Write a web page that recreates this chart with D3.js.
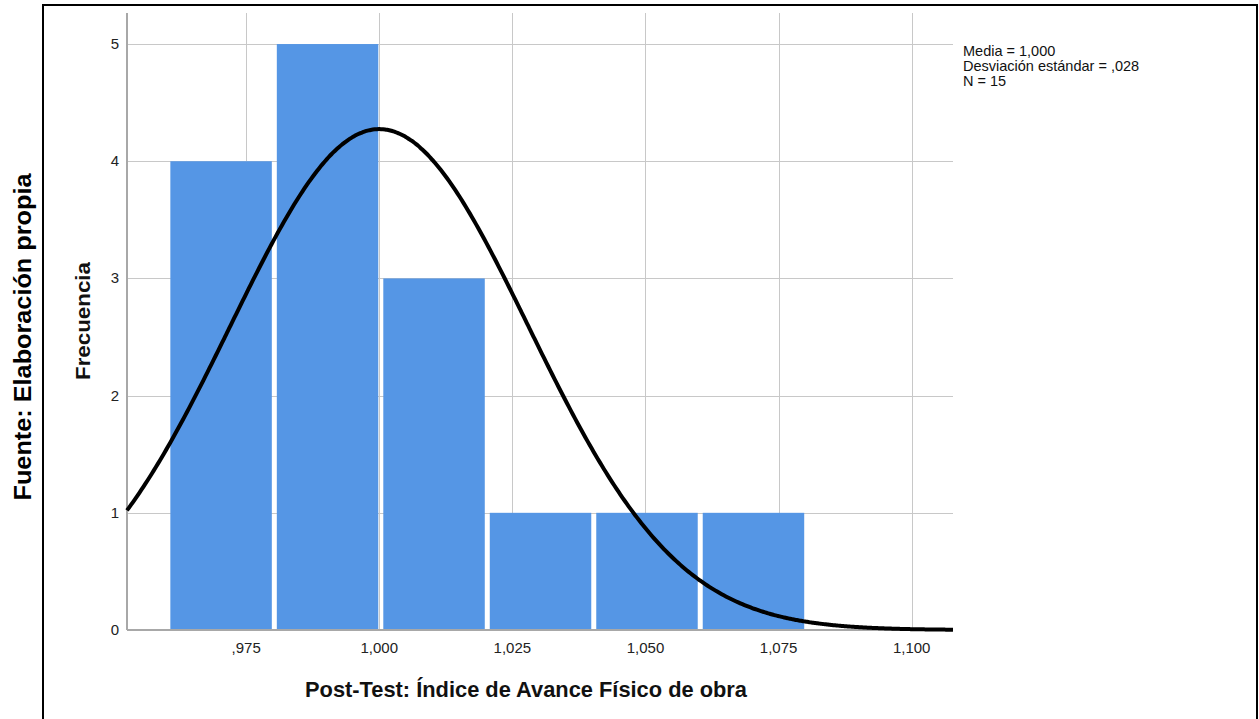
<!DOCTYPE html>
<html>
<head>
<meta charset="utf-8">
<script src="https://cdn.jsdelivr.net/npm/d3@7"></script>
<style>
  html, body { margin: 0; padding: 0; background: #fff; }
  svg { display: block; font-family: "Liberation Sans", Arial, sans-serif; }
</style>
</head>
<body>
<svg id="chart" width="1259" height="719"></svg>
<script>
// ---- data ----
const binStarts = [0.96, 0.98, 1.00, 1.02, 1.04, 1.06];
const binWidth = 0.02;
const frequencies = [4, 5, 3, 1, 1, 1];
const xTickValues = [0.975, 1.000, 1.025, 1.050, 1.075, 1.100];
const xTickLabels = [",975", "1,000", "1,025", "1,050", "1,075", "1,100"];
const yTickValues = [0, 1, 2, 3, 4, 5];
const statsLines = ["Media = 1,000", "Desviación estándar = ,028", "N = 15"];
const mean = 1.000, sd = 0.028, n = 15;
const xTitle = "Post-Test: Índice de Avance Físico de obra";
const yTitle = "Frecuencia";
const sourceLabel = "Fuente: Elaboración propia";

// ---- layout ----
const svg = d3.select("#chart");
const pLeft = 127, pRight = 953, pTop = 13, pBottom = 630;
const x = d3.scaleLinear().domain([0.95261, 1.10776]).range([pLeft, pRight]);
const y = d3.scaleLinear().domain([0, 5.265]).range([pBottom, pTop]);

// frame
svg.append("path")
  .attr("d", `M43,721 V5 H1257 V721`)
  .attr("fill", "none").attr("stroke", "#000").attr("stroke-width", 2);

// gridlines
svg.append("g").selectAll("line").data(yTickValues.filter(d => d > 0)).join("line")
  .attr("x1", pLeft).attr("x2", pRight)
  .attr("y1", d => Math.round(y(d)) + 0.5).attr("y2", d => Math.round(y(d)) + 0.5)
  .attr("stroke", "#c8c8c8").attr("stroke-width", 1);
svg.append("g").selectAll("line").data(xTickValues).join("line")
  .attr("y1", pTop).attr("y2", pBottom)
  .attr("x1", d => Math.round(x(d)) + 0.5).attr("x2", d => Math.round(x(d)) + 0.5)
  .attr("stroke", "#c8c8c8").attr("stroke-width", 1);

// bars
svg.append("g").selectAll("rect").data(binStarts).join("rect")
  .attr("x", d => x(d) + 4)
  .attr("width", d => x(d + binWidth) - x(d) - 5)
  .attr("y", (d, i) => y(frequencies[i]))
  .attr("height", (d, i) => y(0) - y(frequencies[i]))
  .attr("fill", "#5596e5");

// axes lines
svg.append("line").attr("x1", pLeft).attr("x2", pLeft).attr("y1", pTop).attr("y2", pBottom)
  .attr("stroke", "#a8a8a8").attr("stroke-width", 2);
svg.append("line").attr("x1", pLeft).attr("x2", pRight).attr("y1", pBottom).attr("y2", pBottom)
  .attr("stroke", "#a8a8a8").attr("stroke-width", 2);

// normal curve
const pdf = v => n * binWidth / (sd * Math.sqrt(2 * Math.PI)) * Math.exp(-0.5 * ((v - mean) / sd) ** 2);
const pts = d3.range(0, 401).map(i => {
  const v = x.domain()[0] + (x.domain()[1] - x.domain()[0]) * i / 400;
  return [v, pdf(v)];
});
svg.append("path").datum(pts)
  .attr("d", d3.line().x(d => x(d[0])).y(d => y(d[1])).curve(d3.curveBasis))
  .attr("fill", "none").attr("stroke", "#000").attr("stroke-width", 4);

// tick labels
svg.append("g").selectAll("text").data(yTickValues).join("text")
  .attr("x", 119).attr("y", d => y(d) + 5)
  .attr("text-anchor", "end").attr("font-size", 15).attr("fill", "#222")
  .text(d => d);
svg.append("g").selectAll("text").data(xTickValues).join("text")
  .attr("x", d => x(d)).attr("y", 653)
  .attr("text-anchor", "middle").attr("font-size", 15).attr("fill", "#222")
  .text((d, i) => xTickLabels[i]);

// stats legend
svg.append("g").selectAll("text").data(statsLines).join("text")
  .attr("x", 963).attr("y", (d, i) => 56 + i * 15)
  .attr("font-size", 14.5).attr("fill", "#111")
  .text(d => d);

// titles
svg.append("text")
  .attr("x", 526).attr("y", 697)
  .attr("text-anchor", "middle").attr("font-size", 22).attr("font-weight", "bold")
  .attr("textLength", 442).attr("lengthAdjust", "spacingAndGlyphs")
  .attr("fill", "#111").text(xTitle);

svg.append("text")
  .attr("transform", "translate(90,321) rotate(-90)")
  .attr("text-anchor", "middle").attr("font-size", 21).attr("font-weight", "bold")
  .attr("textLength", 118).attr("lengthAdjust", "spacingAndGlyphs")
  .attr("fill", "#111").text(yTitle);

svg.append("text")
  .attr("transform", "translate(31,337) rotate(-90)")
  .attr("text-anchor", "middle").attr("font-size", 24).attr("font-weight", "bold")
  .attr("textLength", 327).attr("lengthAdjust", "spacingAndGlyphs")
  .attr("fill", "#000").text(sourceLabel);
</script>
</body>
</html>
